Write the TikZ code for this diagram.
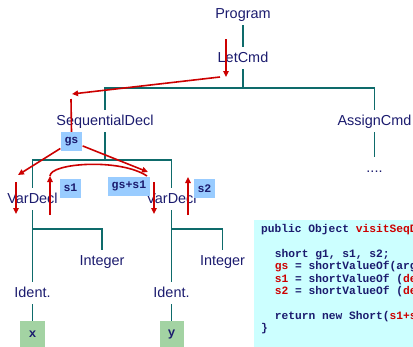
\documentclass[tikz,border=0pt]{standalone}
\usepackage{fontspec}
\setmainfont{Liberation Sans}
\newfontfamily\codefont{Liberation Mono}
\usetikzlibrary{arrows.meta}

\definecolor{treeline}{HTML}{0E6B6B}
\definecolor{navytext}{HTML}{1B1B6E}
\definecolor{flowred}{HTML}{CC0000}
\definecolor{attrblue}{HTML}{99CCFF}
\definecolor{leafgreen}{HTML}{A3D3A3}
\definecolor{codebg}{HTML}{CCFFFF}

\newcommand{\hl}[1]{\textcolor{flowred}{#1}}

\begin{document}
\begin{tikzpicture}[x=1bp,y=-1bp,
    ast/.style={text=navytext,font=\fontsize{14.5}{16}\selectfont,
      text height=11bp,text depth=3bp,inner xsep=0pt,inner ysep=4bp},
    edge/.style={treeline,line width=1.6bp},
    flow/.style={flowred,line width=1.6bp,-{Triangle[length=6bp,width=5.5bp]}},
    flowline/.style={flowred,line width=1.6bp},
    attr/.style={fill=attrblue,text=navytext,
      font=\codefont\bfseries\fontsize{11.6}{12}\selectfont,
      inner xsep=4bp,minimum height=19bp,minimum width=21bp},
    leaf/.style={fill=leafgreen,text=navytext,
      font=\codefont\bfseries\fontsize{12.5}{13}\selectfont,
      minimum width=24bp,minimum height=26bp,inner sep=0pt},
    code/.style={text=navytext,anchor=base west,inner sep=0pt,
      font=\codefont\bfseries\fontsize{11.3}{12.4}\selectfont}]
  \useasboundingbox (0,0) rectangle (413,347);

  % tree nodes
  \node[ast] (prog) at (243,14) {Program};
  \node[ast] (let) at (243,58) {LetCmd};
  \node[ast] (seq) at (105,121) {SequentialDecl};
  \node[ast] (assign) at (374.5,121) {AssignCmd};
  \node[ast] (more) at (374.5,168) {....};
  \node[ast] (var1) at (32.5,199) {VarDecl};
  \node[ast] (var2) at (171.5,199) {VarDecl};
  \node[ast] (int1) at (102,261) {Integer};
  \node[ast] (int2) at (222.5,261) {Integer};
  \node[ast] (id1) at (32.5,293) {Ident.};
  \node[ast] (id2) at (171.5,293) {Ident.};
  \node[leaf] (x) at (32.5,334) {x};
  \node[leaf] (y) at (171.5,334) {y};

  % tree edges
  \draw[edge] (prog) -- (let);
  \draw[edge] (let.south) -- ++(0,19) -| (seq.north);
  \draw[edge] (let.south) -- ++(0,19) -| (assign.north);
  \draw[edge] (assign) -- (more);
  \draw[edge] (seq.south) -- ++(0,28) -| (var1.north);
  \draw[edge] (seq.south) -- ++(0,28) -| (var2.north);
  \draw[edge] (var1.south) -- ++(0,19) -| (int1.north);
  \draw[edge] (var2.south) -- ++(0,19) -| (int2.north);
  \draw[edge] (var1) -- (id1);
  \draw[edge] (var2) -- (id2);
  \draw[edge] (id1) -- (x);
  \draw[edge] (id2) -- (y);

  % attribute boxes
  \node[attr] (gs) at (71.5,141.5) {gs};
  \node[attr] (s1) at (70.5,188) {s1};
  \node[attr] (sum) at (129,186) {gs+s1};
  \node[attr] (s2) at (204.5,188.5) {s2};

  % attribute flow
  \coordinate (letIn) at (226,39);
  \coordinate (letDown) at (226,77);
  \coordinate (letOut) at (220,77);
  \coordinate (seqIn) at (72,94);
  \coordinate (seqTop) at (71,99);
  \coordinate (var1In) at (18,175);
  \coordinate (sumIn) at (148,172);
  \coordinate (var1Top) at (16,182);
  \coordinate (var1Bot) at (16,214);
  \coordinate (s1Bot) at (50,215);
  \coordinate (s1Top) at (50,176);
  \coordinate (var2Top) at (154,182);
  \coordinate (var2Bot) at (154,214);
  \coordinate (s2Bot) at (188,215);
  \coordinate (s2Top) at (188,177);
  \coordinate (sumTop) at (147,176);

  \draw[flow] (letIn) -- (letDown);
  \draw[flow] (letOut) -- (seqIn);
  \draw[flowline] (seqTop) -- (gs.north);
  \draw[flow] (gs) -- (var1In);
  \draw[flow] (gs) -- (sumIn);
  \draw[flow] (var1Top) -- (var1Bot);
  \draw[flow] (s1Bot) -- (s1Top);
  \draw[flowline] (s1Top) .. controls (50,163) and (120,158) .. (sumTop);
  \draw[flow] (var2Top) -- (var2Bot);
  \draw[flow] (s2Bot) -- (s2Top);

  % visitor code
  \begin{scope}
    \clip (0,0) rectangle (413,347);
    \fill[codebg] (254,220) rectangle (413,347);
    \foreach \i/\dx/\txt in {1/0/{public Object \hl{visitSeqD}},
        3/2/{short g1, s1, s2;},
        4/2/{\hl{gs} = shortValueOf(arg},
        5/2/{\hl{s1} = shortValueOf (\hl{de}},
        6/2/{\hl{s2} = shortValueOf (\hl{de}},
        8/2/{return new Short(\hl{s1+s}},
        9/0/{\}}}
      \node[code] (code\i) at ({261+\dx*6.8},{232.5+(\i-1)*12.42}) {\txt};
  \end{scope}
\end{tikzpicture}
\end{document}
